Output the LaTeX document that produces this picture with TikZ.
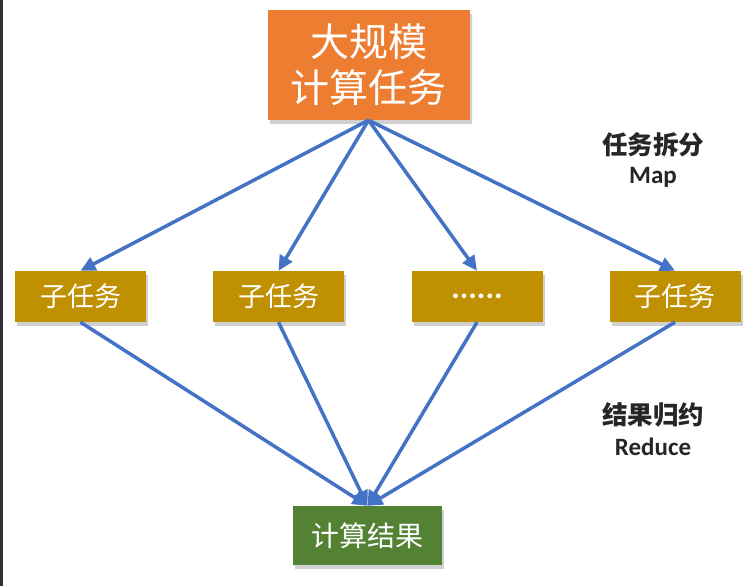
\documentclass[tikz,border=0pt]{standalone}
\usepackage{fontspec}
\setmainfont{Noto Sans CJK SC}
\newfontfamily\cjk{Noto Sans CJK SC}
\newfontfamily\latb{Carlito}
\usetikzlibrary{arrows.meta,shadows}
\definecolor{topor}{HTML}{ED7D31}
\definecolor{subgold}{HTML}{BF9000}
\definecolor{resgreen}{HTML}{548235}
\definecolor{arrblue}{HTML}{4472C4}
\definecolor{stripc}{HTML}{2F3336}
\tikzset{
  boxbase/.style={inner sep=0pt, align=center, text=white,
    drop shadow={shadow xshift=2pt, shadow yshift=-4pt, opacity=0.3, fill=black!60}},
  topbox/.style={boxbase, fill=topor, minimum width=202pt, minimum height=110pt,
    font=\cjk\fontsize{39}{46}\selectfont},
  subbox/.style={boxbase, fill=subgold, minimum width=131pt, minimum height=51pt,
    font=\cjk\fontsize{27}{30}\selectfont},
  resbox/.style={boxbase, fill=resgreen, minimum width=149pt, minimum height=59pt,
    font=\cjk\fontsize{28}{30}\selectfont},
  cjklabel/.style={font=\cjk\bfseries\fontsize{25.5}{27}\selectfont, text=black!85},
  latlabel/.style={font=\latb\bfseries\fontsize{25}{27}\selectfont, text=black!85},
  arr/.style={draw=arrblue, line width=3.5pt, -{Triangle[length=15pt,width=14pt]}}
}
\begin{document}
\begin{tikzpicture}[x=1pt,y=-1pt]
\useasboundingbox (0,0) rectangle (749,586);
\fill[white] (0,0) rectangle (749,586);
\fill[stripc] (0,0) rectangle (2.5,586);

\node[topbox] (top) at (368.5,65) {大规模\\计算任务};
\node[subbox] (s1) at (80.5,296.5) {子任务};
\node[subbox] (s2) at (278.5,296.5) {子任务};
\node[subbox] (s3) at (477,296.5) {\latb\bfseries\fontsize{32}{34}\selectfont ......};
\node[subbox] (s4) at (675,296.5) {子任务};
\node[resbox] (res) at (367.5,535.5) {计算结果};

\node[cjklabel] (l1) at (653,145) {任务拆分};
\node[latlabel] (l2) at (653,177) {Map};
\node[cjklabel] (l3) at (653,415) {结果归约};
\node[latlabel] (l4) at (653,447) {Reduce};

\foreach \s in {s1,s2,s3,s4}{
  \draw[arr] (top.south) -- (\s.north);
  \draw[arr] (\s.south) -- (res.north);
}
\end{tikzpicture}
\end{document}
